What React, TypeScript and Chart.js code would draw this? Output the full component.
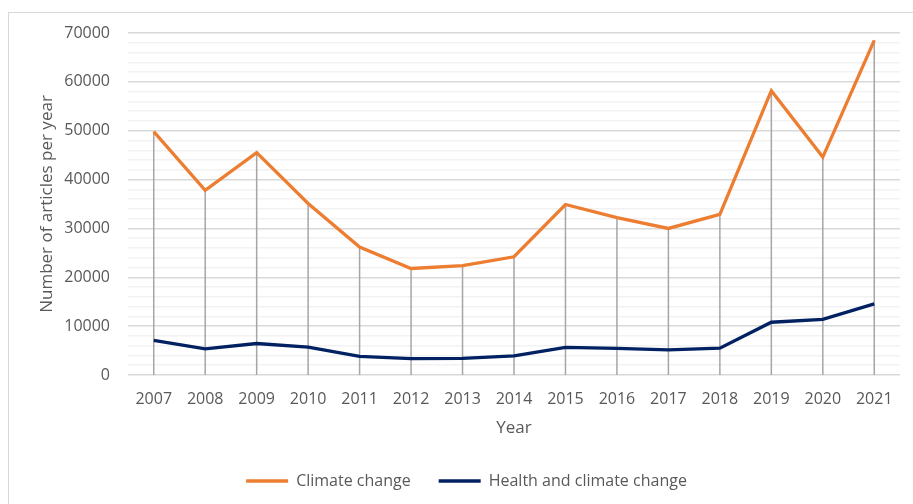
import React, { useEffect, useRef } from "react";
import { Chart, registerables } from "chart.js";

Chart.register(...registerables);

const years = ["2007", "2008", "2009", "2010", "2011", "2012", "2013", "2014", "2015", "2016", "2017", "2018", "2019", "2020", "2021"];
const climateChange = [49800, 37800, 45500, 35100, 26200, 21800, 22400, 24200, 34900, 32200, 30000, 32900, 58200, 44600, 68500];
const healthClimate = [7100, 5350, 6450, 5700, 3800, 3350, 3400, 3900, 5650, 5450, 5150, 5500, 10800, 11400, 14550];

const FONT = "'Open Sans', sans-serif";
const TEXT = "#595959";

const dropLines = {
  id: "dropLines",
  beforeDatasetsDraw(chart: any) {
    const meta = chart.getDatasetMeta(0);
    const yScale = chart.scales.y;
    const base = yScale.getPixelForValue(0);
    const ctx = chart.ctx;
    ctx.save();
    ctx.strokeStyle = "#a6a6a6";
    ctx.lineWidth = 1.5;
    meta.data.forEach((pt: any) => {
      ctx.beginPath();
      ctx.moveTo(pt.x, pt.y);
      ctx.lineTo(pt.x, base);
      ctx.stroke();
    });
    ctx.restore();
  },
};

export default function App() {
  const ref = useRef<HTMLCanvasElement>(null);
  useEffect(() => {
    if (!ref.current) return;
    const chart = new Chart(ref.current, {
      type: "line",
      data: {
        labels: years,
        datasets: [
          {
            label: "Climate change",
            data: climateChange,
            borderColor: "#ED7D31",
            backgroundColor: "#ED7D31",
            borderWidth: 3.3,
            pointRadius: 0,
            tension: 0,
          },
          {
            label: "Health and climate change",
            data: healthClimate,
            borderColor: "#022163",
            backgroundColor: "#022163",
            borderWidth: 3.3,
            pointRadius: 0,
            tension: 0,
          },
        ],
      },
      options: {
        animation: false,
        responsive: false,
        layout: { padding: { left: 33, top: 33, right: 13, bottom: 5 } },
        plugins: {
          tooltip: { enabled: false },
          legend: {
            position: "bottom",
            maxHeight: 55,
            labels: {
              usePointStyle: true,
              pointStyle: "line",
              pointStyleWidth: 42,
              color: TEXT,
              font: { family: FONT, size: 16 },
              padding: 28,
            },
          },
        },
        scales: {
          x: {
            offset: true,
            afterFit: (s: any) => { s.height = 70; },
            grid: { display: false, drawTicks: false },
            border: { display: false },
            ticks: { color: TEXT, font: { family: FONT, size: 16 }, padding: 15, maxRotation: 0 },
            title: { display: true, text: "Year", color: TEXT, font: { family: FONT, size: 17 }, padding: { top: 4, bottom: 7 } },
          },
          y: {
            min: 0,
            max: 70000,
            afterFit: (s: any) => { s.width = 95; },
            grid: {
              drawTicks: false,
              color: (c: any) => (c.tick && c.tick.value % 10000 === 0 ? "#d9d9d9" : "#f2f2f2"),
              lineWidth: 1.5,
            },
            border: { display: false },
            ticks: {
              stepSize: 2000,
              autoSkip: false,
              padding: 18,
              color: TEXT,
              font: { family: FONT, size: 16 },
              callback: (v: any) => (Number(v) % 10000 === 0 ? String(v) : ""),
            },
            title: { display: true, text: "Number of articles per year", color: TEXT, font: { family: FONT, size: 17 } },
          },
        },
      },
      plugins: [dropLines],
    });
    return () => chart.destroy();
  }, []);
  return (
    <div style={{ position: "fixed", left: 0, top: 0, width: 913, height: 504, background: "#fff", overflow: "hidden" }}>
      <div style={{ position: "absolute", left: 8, top: 12, width: 940, height: 540, border: "1px solid #d9d9d9" }} />
      <canvas ref={ref} width={913} height={504} style={{ position: "absolute", left: 0, top: 0 }} />
    </div>
  );
}
